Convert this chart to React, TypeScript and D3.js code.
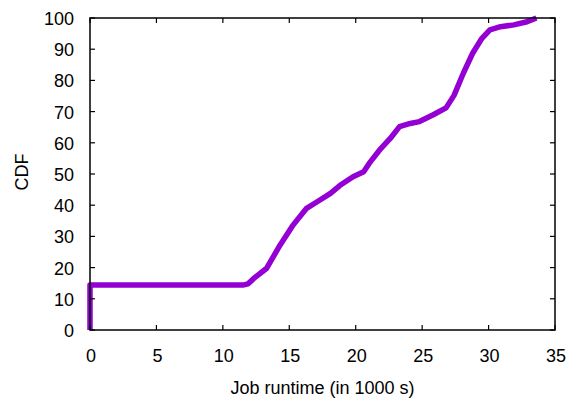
import React, { useEffect, useRef } from 'react';
import * as d3 from 'd3';

// runtime in 1000 s
const runtime = [0, 0, 11.5, 11.9, 12.4, 13.3, 14.3, 15.3, 16.3, 17.1, 18.1, 18.8, 19.8, 20.6, 21.1,
  21.8, 22.6, 23.3, 24.1, 24.8, 25.8, 26.8, 27.4, 28.1, 28.8, 29.5, 30.1, 30.9, 31.9, 32.9, 33.6];
const cdf = [0, 14.4, 14.4, 14.8, 16.8, 19.8, 27.2, 33.7, 39.0, 41.1, 43.8, 46.3, 49.1, 50.7, 53.9,
  57.7, 61.4, 65.2, 66.2, 66.8, 68.9, 71.2, 75.2, 82.3, 88.7, 93.5, 96.2, 97.2, 97.8, 98.8, 100];

const xTicks = [0, 5, 10, 15, 20, 25, 30, 35];
const yTicks = [0, 10, 20, 30, 40, 50, 60, 70, 80, 90, 100];

const App = () => {
  const svgRef = useRef<SVGSVGElement>(null);
  const width = 569, height = 401;
  const margin = { top: 18, right: 14, bottom: 71, left: 90 };

  useEffect(() => {
    const svg = d3.select(svgRef.current);
    svg.selectAll('*').remove();

    const x = d3.scaleLinear().domain([0, 35]).range([margin.left, width - margin.right]);
    const y = d3.scaleLinear().domain([0, 100]).range([height - margin.bottom, margin.top]);
    const font = '"Liberation Sans", Arial, sans-serif';

    // Curve first, frame on top
    const line = d3.line<number>()
      .x(i => x(runtime[i]))
      .y(i => y(cdf[i]));

    svg.append('path')
      .attr('d', line(d3.range(runtime.length)))
      .attr('fill', 'none')
      .attr('stroke', '#9400d3')
      .attr('stroke-width', 5.5)
      .attr('stroke-linejoin', 'round');

    const g = svg.append('g').attr('stroke', '#000').attr('stroke-width', 1.2);

    // Inward ticks on all sides
    xTicks.forEach(t => {
      g.append('line').attr('x1', x(t)).attr('x2', x(t)).attr('y1', y(0)).attr('y2', y(0) - 5);
      g.append('line').attr('x1', x(t)).attr('x2', x(t)).attr('y1', y(100)).attr('y2', y(100) + 5);
    });
    yTicks.forEach(t => {
      g.append('line').attr('x1', x(0)).attr('x2', x(0) + 5).attr('y1', y(t)).attr('y2', y(t));
      g.append('line').attr('x1', x(35)).attr('x2', x(35) - 5).attr('y1', y(t)).attr('y2', y(t));
    });

    // Frame
    svg.append('rect')
      .attr('x', x(0))
      .attr('y', y(100))
      .attr('width', x(35) - x(0))
      .attr('height', y(0) - y(100))
      .attr('fill', 'none')
      .attr('stroke', '#000')
      .attr('stroke-width', 1.5);

    svg.selectAll('text.xt')
      .data(xTicks)
      .enter()
      .append('text')
      .attr('class', 'xt')
      .attr('x', d => x(d) + 1)
      .attr('y', 362)
      .attr('text-anchor', 'middle')
      .attr('font-family', font)
      .attr('font-size', '18px')
      .text(d => d);

    svg.selectAll('text.yt')
      .data(yTicks)
      .enter()
      .append('text')
      .attr('class', 'yt')
      .attr('x', x(0) - 16)
      .attr('y', d => y(d) + 7)
      .attr('text-anchor', 'end')
      .attr('font-family', font)
      .attr('font-size', '18px')
      .text(d => d);

    svg.append('text')
      .attr('x', (x(0) + x(35)) / 2)
      .attr('y', 394)
      .attr('text-anchor', 'middle')
      .attr('font-family', font)
      .attr('font-size', '18px')
      .text('Job runtime (in 1000 s)');

    svg.append('text')
      .attr('transform', `translate(28, ${(y(0) + y(100)) / 2 - 2}) rotate(-90)`)
      .attr('text-anchor', 'middle')
      .attr('font-family', font)
      .attr('font-size', '18px')
      .text('CDF');
  }, []);

  return (
    <svg ref={svgRef} width={width} height={height}
      style={{ position: 'absolute', left: 0, top: 0, background: '#fff' }} />
  );
};

export default App;
